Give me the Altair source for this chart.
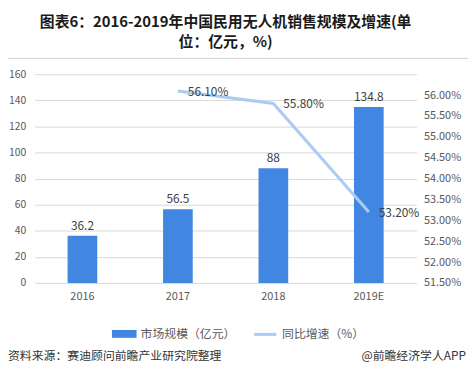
import altair as alt
import pandas as pd

years = ["2016", "2017", "2018", "2019E"]
market = [36.2, 56.5, 88, 134.8]
growth = [None, 0.561, 0.558, 0.532]
growth_labels = ["", "56.10%", "55.80%", "53.20%"]

bar_name = "市场规模（亿元）"
line_name = "同比增速（%）"

df = pd.DataFrame({"year": years, "market": market, "growth": growth,
                   "glabel": growth_labels, "bs": bar_name, "ls": line_name})
dline = df.dropna(subset=["growth"])

FONT = "Noto Sans CJK SC"
BLUE = "#4187e2"
LIGHT = "#aacbf4"

x = alt.X("year:N", sort=years, title=None,
          axis=alt.Axis(labelAngle=0, domain=False, ticks=False, labelPadding=8,
                        labelColor="#595959", labelFontSize=11, labelFont=FONT),
          scale=alt.Scale(paddingInner=0.0, paddingOuter=0.0))

my = alt.Y("market:Q", title=None, scale=alt.Scale(domain=[0, 160]),
           axis=alt.Axis(values=list(range(0, 161, 20)), domain=False, ticks=False,
                         labelOverlap=False,
                         labelPadding=9, labelColor="#595959", labelFontSize=10.5,
                         labelFont=FONT, gridColor="#d9d9d9"))

bars = alt.Chart(df).mark_bar(size=30).encode(
    x=x,
    y=my,
    color=alt.Color("bs:N", scale=alt.Scale(domain=[bar_name], range=[BLUE]),
                    legend=alt.Legend(title=None, orient="none", legendX=78, legendY=250,
                                      symbolType="M-1,-0.32H1V0.32H-1Z", symbolSize=620,
                                      labelFontSize=12, labelColor="#595959", labelFont=FONT,
                                      symbolStrokeWidth=0)),
)
bar_text = alt.Chart(df).mark_text(dy=-10, fontSize=12, color="#404040", font=FONT).encode(
    x=x, y=my, text="market:Q")

left = alt.layer(bars, bar_text)

gy = alt.Y("growth:Q", title=None, scale=alt.Scale(domain=[0.515, 0.565]),
           axis=alt.Axis(orient="right", format=".2%",
                         values=[0.515 + 0.005 * i for i in range(11)], domain=False,
                         labelOverlap=False,
                         ticks=False, grid=False, labelPadding=7, labelColor="#595959",
                         labelFontSize=11, labelFont=FONT))
line = alt.Chart(dline).mark_line(strokeWidth=3).encode(
    x=x, y=gy,
    stroke=alt.Stroke("ls:N", scale=alt.Scale(domain=[line_name], range=[LIGHT]),
                      legend=alt.Legend(title=None, orient="none", legendX=220, legendY=250,
                                        symbolType="stroke", symbolSize=500,
                                        symbolStrokeWidth=3,
                                        labelFontSize=12, labelColor="#595959",
                                        labelFont=FONT)),
)
line_text = alt.Chart(dline).mark_text(align="left", dx=10, dy=1, fontSize=12,
                                       color="#404040", font=FONT).encode(
    x=x, y=gy, text="glabel:N")
right = alt.layer(line, line_text)

footer_df = pd.DataFrame({"t": ["资料来源：赛迪顾问前瞻产业研究院整理"]})
footer = alt.Chart(footer_df).mark_text(align="left", baseline="middle", fontSize=12,
                                        color="#333333", font=FONT).encode(
    x=alt.value(-27), y=alt.value(285), text="t:N")
footer2_df = pd.DataFrame({"t": ["@前瞻经济学人APP"]})
footer2 = alt.Chart(footer2_df).mark_text(align="right", baseline="middle", fontSize=12,
                                          color="#333333", font=FONT).encode(
    x=alt.value(436), y=alt.value(285), text="t:N")
sep = alt.Chart(footer_df).mark_rule(color="#d0d0d0", strokeWidth=1).encode(
    x=alt.value(-27), x2=alt.value(438), y=alt.value(-16))

chart = alt.layer(left, right, footer, footer2, sep).resolve_scale(
    y="independent", color="independent"
).properties(
    width=386, height=211,
    padding={"left": 27, "top": 65, "right": 52, "bottom": 80},
    autosize=alt.AutoSizeParams(type="none"),
    title=alt.TitleParams(["图表6：2016-2019年中国民用无人机销售规模及增速(单", "位：亿元，%)"],
                          anchor="middle", fontSize=15, fontWeight="bold", font=FONT,
                          color="#1a1a1a", offset=8, dx=0, lineHeight=20),
).configure_view(stroke=None)

chart.save("out.html", embed_options={"renderer": "svg", "actions": False})
